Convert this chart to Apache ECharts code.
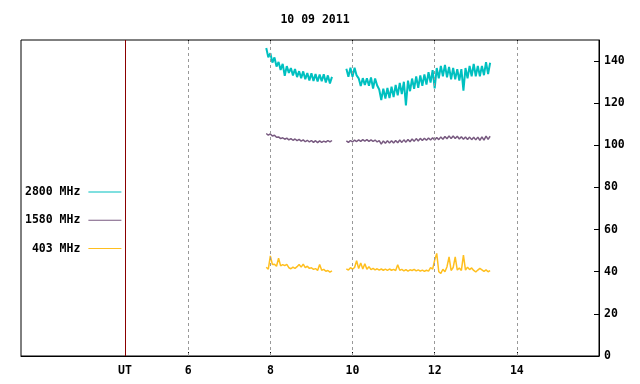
<!DOCTYPE html>
<html>
<head>
<meta charset="utf-8">
<script src="https://cdn.jsdelivr.net/npm/echarts@6/dist/echarts.min.js"></script>
<style>html,body{margin:0;padding:0;background:#fff}#c{width:640px;height:384px}</style>
</head>
<body>
<div id="c"></div>
<script>
const title = '10 09 2011';
const seriesNames = ['2800 MHz', '1580 MHz', '403 MHz'];
const xTickValues = [6, 8, 10, 12, 14];
const utPosition = 4.46;
const yTicks = [0, 20, 40, 60, 80, 100, 120, 140];
// sampling of the two observation segments (hours UT)
const seg1Start = 7.90, seg2Start = 9.85, sampleStep = 0.05;

const teal1 = [146.2,141.8,143.7,139.3,141.7,137.4,139.6,135.8,138.7,133.0,137.6,134.4,136.7,133.2,136.2,132.4,135.2,131.9,135.1,131.4,134.3,130.8,134.2,130.5,133.8,130.3,133.6,130.4,133.7,129.8,133.2,129.4,132.5];
const teal2 = [136.4,132.6,136.9,132.6,136.8,133.2,131.8,128.2,131.9,128.6,131.8,128.3,132.2,127.0,131.7,128.4,126.5,121.5,126.9,122.2,127.2,122.4,127.8,122.9,128.7,123.7,129.6,124.3,130.2,119.0,130.7,125.7,131.7,126.8,132.7,127.3,133.2,128.3,133.7,128.8,134.7,129.8,135.7,127.0,136.7,131.8,137.7,132.8,138.2,132.3,137.2,131.3,136.7,131.3,136.2,130.8,136.2,126.0,136.7,131.8,137.7,132.8,138.7,132.8,137.7,132.8,137.7,133.3,139.5,133.8,139.2];

const purple1 = [105.6,104.8,105.4,104.4,104.8,103.8,104.0,103.2,103.6,102.9,103.4,102.6,103.2,102.4,103.0,102.2,102.8,102.0,102.6,101.7,102.4,101.6,102.3,101.4,102.2,101.3,102.1,101.4,102.0,101.5,102.3,101.6,102.3];
const purple2 = [102.1,101.4,102.3,101.6,102.5,101.8,102.6,101.9,102.7,102.0,102.7,101.9,102.6,101.9,102.5,101.6,102.2,100.6,102.1,101.0,102.2,101.1,102.2,101.1,102.3,101.2,102.5,101.4,102.6,101.5,102.8,101.7,103.0,101.9,103.2,102.1,103.3,102.3,103.4,102.4,103.5,102.5,103.6,102.5,103.7,102.7,104.0,102.9,104.2,103.1,104.5,103.2,104.4,103.2,104.3,103.0,104.1,102.9,104.0,102.8,103.9,102.7,103.8,102.6,103.9,102.4,104.0,102.5,104.4,102.8,104.3];

const yellow1 = [42.1,41.2,47.5,43.4,43.6,42.6,46.4,42.8,43.4,42.9,43.5,41.9,41.4,42.2,41.6,42.4,43.4,42.2,43.6,42.0,42.6,41.6,41.9,41.1,41.5,40.6,43.4,40.7,41.1,40.2,40.6,39.8,40.4];
const yellow2 = [41.4,40.8,41.9,41.2,42.0,45.2,41.5,44.2,41.3,43.8,41.2,42.4,41.0,41.6,40.9,41.4,40.8,41.3,40.7,41.2,40.6,41.3,40.7,41.1,40.6,43.3,40.7,41.1,40.4,41.0,40.3,40.9,40.6,41.1,40.4,40.9,40.3,40.8,40.2,40.7,40.3,42.0,41.2,45.5,48.7,40.0,39.2,41.2,40.0,42.4,47.0,40.6,42.0,47.0,40.8,41.8,40.6,47.9,40.8,42.2,41.0,41.8,40.6,39.9,40.8,41.6,40.9,40.2,40.9,40.0,40.5];

function build(a, b) {
  const out = [];
  a.forEach((v, i) => out.push([+(seg1Start + i * sampleStep).toFixed(3), v]));
  out.push([+((seg1Start + (a.length) * sampleStep + seg2Start) / 2).toFixed(3), null]);
  b.forEach((v, i) => out.push([+(seg2Start + i * sampleStep).toFixed(3), v]));
  return out;
}

const FONT = 'DejaVu Sans Mono';
const colors = ['#00c0c0', '#785a80', '#ffbf1f'];
const widths = [2, 1.5, 1.5];
const chart = echarts.init(document.getElementById('c'), null, {renderer: 'canvas'});

const lineSeries = (name, data, color, width, extra) => Object.assign({
  name, type: 'line', data, showSymbol: false, symbol: 'none', connectNulls: false,
  lineStyle: {color, width}, itemStyle: {color}, animation: false, sampling: null, silent: true
}, extra || {});

chart.setOption({
  animation: false,
  color: colors,
  title: {
    text: title, left: 310, top: 9, textAlign: 'center',
    textStyle: {fontFamily: FONT, fontSize: 11.5, fontWeight: 'bold', color: '#000'}
  },
  legend: {
    orient: 'vertical', left: 20, top: 180, align: 'right',
    itemWidth: 33, itemHeight: 1, itemGap: 14.3, icon: 'rect',
    selectedMode: false,
    formatter: n => n.padStart(8, ' '),
    textStyle: {fontFamily: FONT, fontSize: 11.5, fontWeight: 'bold', color: '#000', lineHeight: 14, padding: [0, 3, 0, 0]},
    data: seriesNames
  },
  grid: {left: 21, right: 41, top: 40, bottom: 28, show: true, borderColor: '#000', borderWidth: 1, containLabel: false},
  xAxis: [{
    type: 'value', min: 1.93, max: 16, position: 'bottom',
    axisLine: {show: true, lineStyle: {color: '#000'}},
    axisTick: {show: true, inside: true, length: 4, customValues: xTickValues, lineStyle: {color: '#000'}},
    axisLabel: {show: true, customValues: xTickValues.concat([utPosition]), margin: 9,
      formatter: v => (Math.abs(v - utPosition) < 0.01 ? 'UT' : String(v)),
      fontFamily: FONT, fontSize: 11.5, fontWeight: 'bold', color: '#000'},
    splitLine: {show: false}
  }, {
    type: 'value', min: 1.93, max: 16, position: 'top',
    axisLine: {show: false},
    axisTick: {show: true, inside: true, length: 4, customValues: xTickValues, lineStyle: {color: '#000'}},
    axisLabel: {show: false},
    splitLine: {show: false}
  }],
  yAxis: {
    type: 'value', position: 'right', min: 0, max: 150, interval: 20,
    axisLine: {show: true, lineStyle: {color: '#000'}},
    axisTick: {show: true, inside: true, length: 5, lineStyle: {color: '#000'}},
    axisLabel: {show: true, margin: 5, showMaxLabel: false,
      formatter: v => (yTicks.indexOf(v) >= 0 ? String(v) : ''),
      fontFamily: FONT, fontSize: 11.5, fontWeight: 'bold', color: '#000'},
    splitLine: {show: false}
  },
  series: [
    lineSeries(seriesNames[0], build(teal1, teal2), colors[0], widths[0]),
    lineSeries(seriesNames[1], build(purple1, purple2), colors[1], widths[1]),
    lineSeries(seriesNames[2], build(yellow1, yellow2), colors[2], widths[2], {
      markLine: {
        silent: true, symbol: 'none', animation: false,
        label: {show: false},
        lineStyle: {color: '#999', type: [3, 3], width: 1},
        data: xTickValues.map(v => ({xAxis: v})).concat([{xAxis: utPosition, lineStyle: {color: '#8b0000', type: 'solid', width: 1}}])
      }
    })
  ]
});
</script>
</body>
</html>
